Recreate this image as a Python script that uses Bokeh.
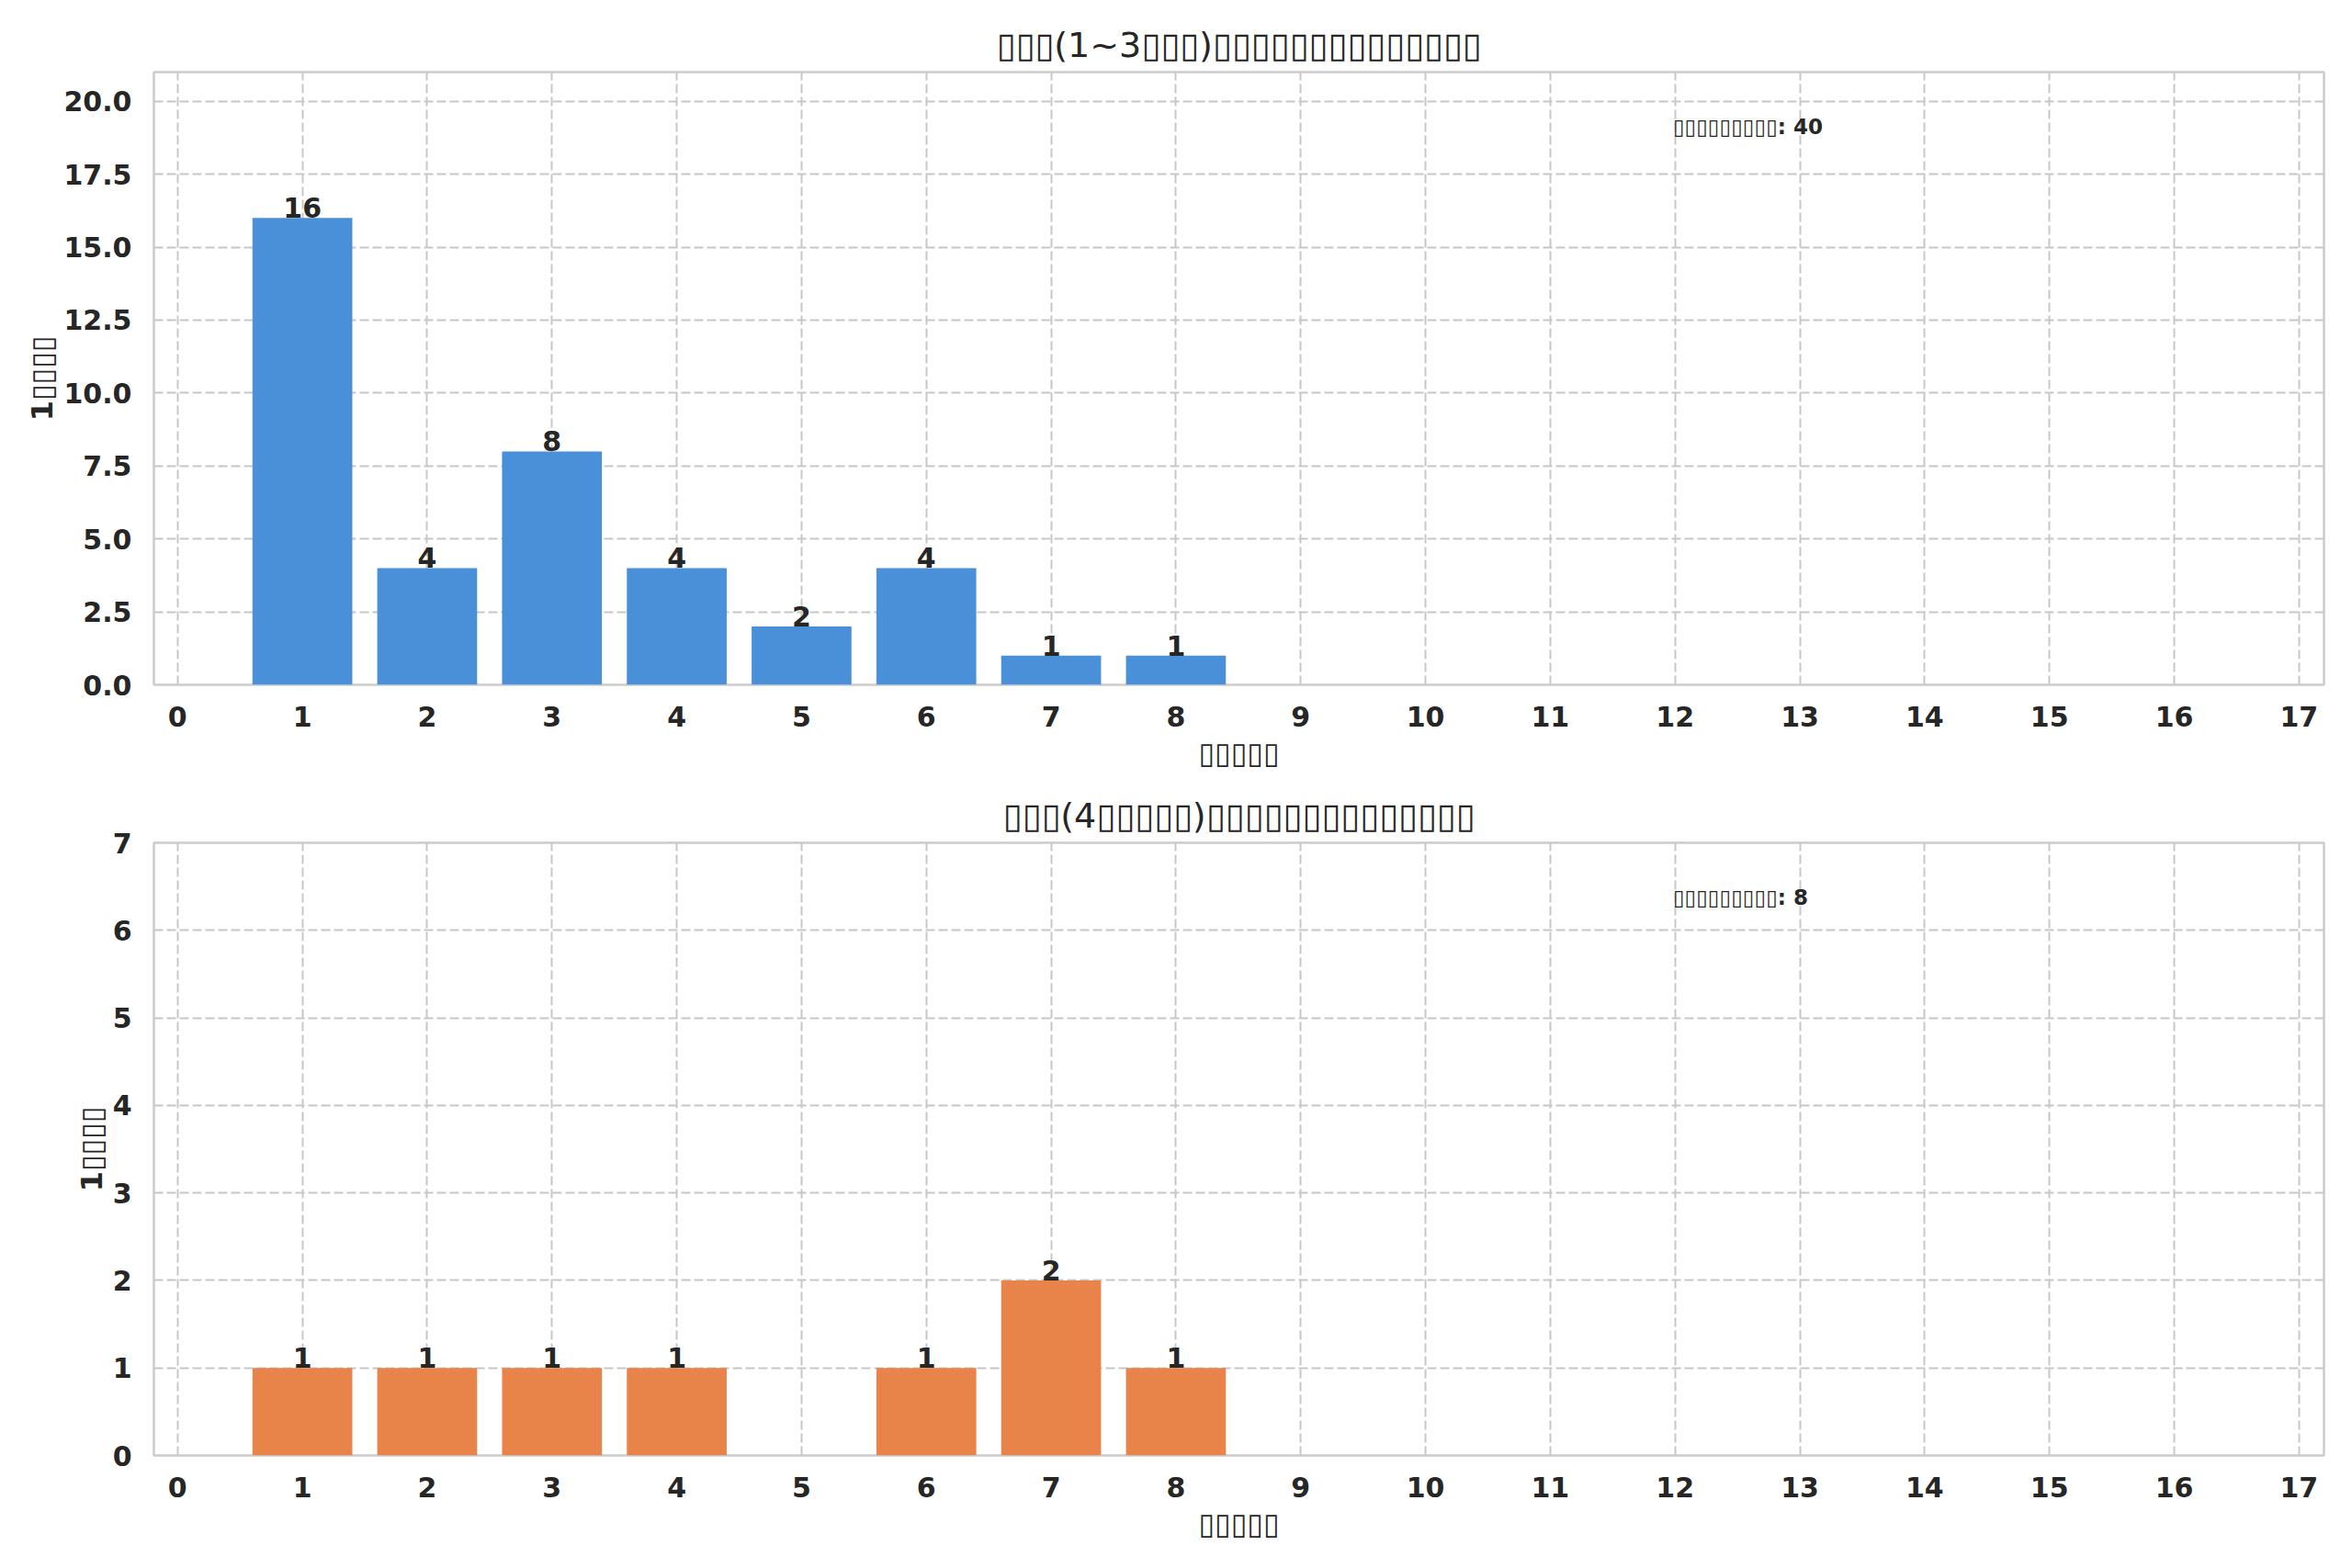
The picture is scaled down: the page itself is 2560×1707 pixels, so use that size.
from bokeh.plotting import figure
from bokeh.layouts import column
from bokeh.models import Range1d, FixedTicker, PrintfTickFormatter, Label, ColumnDataSource, Title
from bokeh.embed import file_html
from bokeh.resources import INLINE

# ---- data ----
x_positions = [1, 2, 3, 4, 5, 6, 7, 8]
counts_a = [16, 4, 8, 4, 2, 4, 1, 1]
counts_b = [1, 1, 1, 1, 0, 1, 2, 1]
x_ticks = list(range(0, 18))
y_ticks_a = [0, 2.5, 5, 7.5, 10, 12.5, 15, 17.5, 20]
y_ticks_b = [0, 1, 2, 3, 4, 5, 6, 7]

title_a = "▯▯▯(1~3▯▯▯)" + "▯" * 14
title_b = "▯▯▯(4▯▯▯▯▯)" + "▯" * 14
x_label = "▯" * 5
y_label = "1" + "▯" * 4
total_label = "▯" * 9
total_a = sum(counts_a)
total_b = sum(counts_b)

COLOR_A = "#4a90d9"
COLOR_B = "#e8834a"
TEXT = "#262626"
FONT = "DejaVu Sans"

X_MIN, X_MAX = -0.19, 17.2


def make_plot(xs, ys, color, title, ymax, yticks, fmt, total, top_border, bottom_border):
    p = figure(frame_width=2362, frame_height=667,
               min_border_left=167, min_border_right=19,
               min_border_top=top_border, min_border_bottom=bottom_border,
               x_range=Range1d(X_MIN, X_MAX), y_range=Range1d(0, ymax),
               output_backend="svg", toolbar_location=None, title=None)
    t = Title(text=title, align="center", text_font=FONT, text_font_size="38px",
              text_font_style="normal", text_color=TEXT, standoff=15)
    p.add_layout(t, "above")
    p.background_fill_color = "white"
    p.border_fill_color = "white"
    p.outline_line_color = "#cccccc"
    p.outline_line_width = 2.5

    src = ColumnDataSource(dict(x=[a for a, b in zip(xs, ys) if b > 0],
                                top=[b for b in ys if b > 0],
                                lab=[str(b) for b in ys if b > 0]))
    p.vbar(x="x", top="top", width=0.8, bottom=0, source=src,
           fill_color=color, line_color=None)
    p.text(x="x", y="top", text="lab", source=src, text_align="center",
           text_baseline="bottom", text_font_size="30px",
           text_font_style="bold", text_color=TEXT, text_font={"value": FONT})

    for ax in (p.xaxis, p.yaxis):
        ax.axis_line_color = None
        ax.major_tick_line_color = None
        ax.minor_tick_line_color = None
        ax.major_label_text_font = FONT
        ax.major_label_text_font_style = "bold"
        ax.major_label_text_font_size = "30px"
        ax.major_label_text_color = TEXT
        ax.axis_label_text_font = FONT
        ax.axis_label_text_font_style = "bold"
        ax.axis_label_text_font_size = "32px"
        ax.axis_label_text_color = TEXT
    p.xaxis.ticker = FixedTicker(ticks=x_ticks)
    p.yaxis.ticker = FixedTicker(ticks=yticks)
    p.yaxis.formatter = PrintfTickFormatter(format=fmt)
    p.xaxis.major_label_standoff = 17
    p.yaxis.major_label_standoff = 18
    p.xaxis.axis_label = x_label
    p.yaxis.axis_label = y_label
    p.xaxis.axis_label_standoff = 7
    p.yaxis.axis_label_standoff = 1

    for g in (p.xgrid, p.ygrid):
        g.grid_line_color = "#c8c8c8"
        g.grid_line_width = 2
        g.grid_line_dash = "10 4"

    lab = Label(x=X_MIN + 0.7 * (X_MAX - X_MIN), y=0.911 * ymax,
                text=f"{total_label}: {total}", text_align="left",
                text_baseline="middle", text_font=FONT, text_font_size="23px",
                text_font_style="bold", text_color=TEXT)
    p.add_layout(lab)
    return p


p1 = make_plot(x_positions, counts_a, COLOR_A, title_a, 21, y_ticks_a, "%.1f", total_a, 78, 101)
p2 = make_plot(x_positions, counts_b, COLOR_B, title_b, 7, y_ticks_b, "%d", total_b, 71, 100)

layout = column(p1, p2, spacing=0)
open("out.html", "w").write(file_html(layout, INLINE))
